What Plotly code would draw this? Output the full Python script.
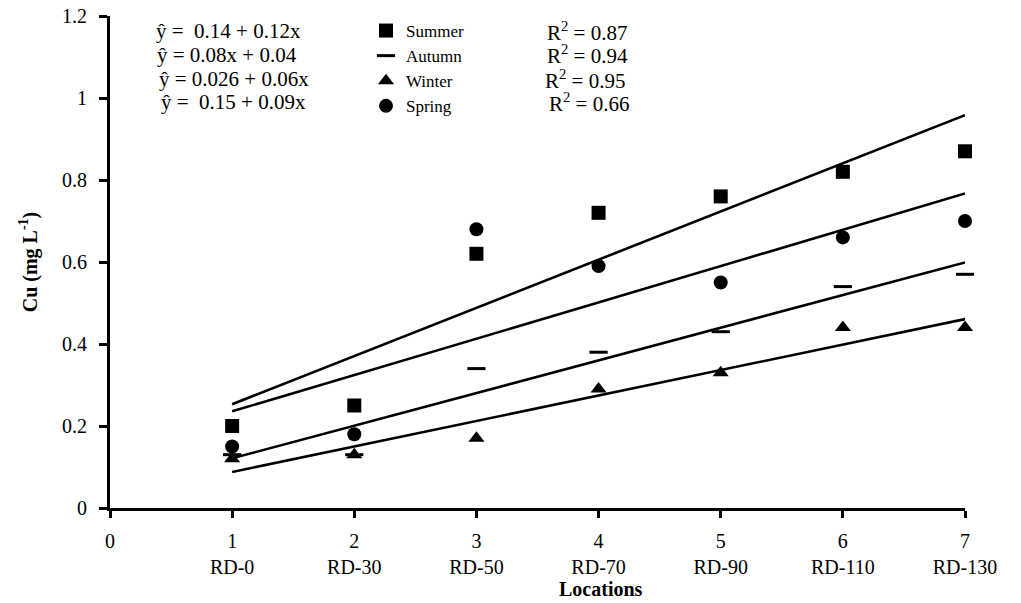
import numpy as np
import plotly.graph_objects as go

# ---- data ----
x_pos = [1, 2, 3, 4, 5, 6, 7]
locations = ["RD-0", "RD-30", "RD-50", "RD-70", "RD-90", "RD-110", "RD-130"]
summer = [0.20, 0.25, 0.62, 0.72, 0.76, 0.82, 0.87]
autumn = [0.13, 0.13, 0.34, 0.38, 0.43, 0.54, 0.57]
winter = [0.12, 0.13, 0.17, 0.29, 0.33, 0.44, 0.44]
spring = [0.15, 0.18, 0.68, 0.59, 0.55, 0.66, 0.70]
seasons = ["Summer", "Autumn", "Winter", "Spring"]
equations = ["ŷ =\u00a0 0.14 + 0.12x", "ŷ = 0.08x + 0.04", "ŷ = 0.026 + 0.06x", "ŷ =\u00a0 0.15 + 0.09x"]
r2_values = ["0.87", "0.94", "0.95", "0.66"]
y_ticks = [0, 0.2, 0.4, 0.6, 0.8, 1.0, 1.2]

series = [summer, autumn, winter, spring]
symbols = ["square", "line-ew", "triangle-up", "circle"]
sizes = [14, 13, 14, 14]

FONT = "Liberation Serif"
fig = go.Figure()

# trend lines (least-squares fits of each season)
for vals in series:
    slope, icpt = np.polyfit(x_pos, vals, 1)
    xs = [x_pos[0], x_pos[-1]]
    fig.add_trace(go.Scatter(
        x=xs, y=[icpt + slope * v for v in xs], mode="lines",
        line=dict(color="black", width=2.6), showlegend=False, hoverinfo="skip",
    ))

for name, vals, sym, sz in zip(seasons, series, symbols, sizes):
    fig.add_trace(go.Scatter(
        x=x_pos, y=vals, mode="markers", name=name, cliponaxis=False,
        marker=dict(symbol=sym, size=sz, color="black",
                    line=dict(color="black", width=3 if sym == "line-ew" else 0)),
    ))

# equation and R² annotations (pixel positions of row centres)
eq_x = [228, 227, 234, 233]
r2_x = [587, 587, 585, 589]
row_y = [31, 55, 79, 102]
L, R, T, B = 110, 56, 16, 95
W, H = 1021, 603
pw, ph = W - L - R, H - T - B

def px(x):
    return (x - L) / pw

def py(y):
    return (H - B - y) / ph

annotations = []
for eq, r2, ex, rx, ry in zip(equations, r2_values, eq_x, r2_x, row_y):
    annotations.append(dict(x=px(ex), y=py(ry), xref="paper", yref="paper", text=eq,
                            showarrow=False, xanchor="center", yanchor="middle",
                            font=dict(family=FONT, size=21, color="black")))
    annotations.append(dict(x=px(rx), y=py(ry), xref="paper", yref="paper",
                            text="R<sup>2</sup> = " + r2,
                            showarrow=False, xanchor="center", yanchor="middle",
                            font=dict(family=FONT, size=21, color="black")))
annotations.append(dict(x=px(601), y=py(589), xref="paper", yref="paper",
                        text="<b>Locations</b>", showarrow=False,
                        xanchor="center", yanchor="middle",
                        font=dict(family=FONT, size=20, color="black")))

fig.update_layout(
    width=W, height=H,
    margin=dict(l=L, r=R, t=T, b=B, autoexpand=False),
    paper_bgcolor="white", plot_bgcolor="white",
    font=dict(family=FONT, size=20, color="black"),
    showlegend=True,
    legend=dict(x=px(366), y=py(13), xanchor="left", yanchor="top",
                bgcolor="rgba(0,0,0,0)", font=dict(family=FONT, size=17, color="black"),
                tracegroupgap=0),
    annotations=annotations,
)
fig.update_xaxes(
    range=[0, 7], tickvals=[0] + x_pos,
    ticktext=["0"] + [f"{n}<br>{loc}" for n, loc in zip(x_pos, locations)],
    showline=True, linecolor="black", linewidth=3, ticks="outside", ticklen=7,
    tickwidth=3, tickcolor="black", showgrid=False, zeroline=False,
    automargin=False, ticklabelstandoff=6,
    tickfont=dict(family=FONT, size=20, color="black"),
)
fig.update_yaxes(
    range=[0, 1.2], tickvals=y_ticks,
    showline=True, linecolor="black", linewidth=3, ticks="outside", ticklen=8,
    tickwidth=3, tickcolor="black", showgrid=False, zeroline=False,
    automargin=False, ticklabelstandoff=8,
    tickfont=dict(family=FONT, size=20, color="black"),
    title=dict(text="<b>Cu (mg L<sup>-1</sup>)</b>", standoff=20,
               font=dict(family=FONT, size=20, color="black")),
)

fig.write_html("out.html", config={"displayModeBar": False},
               post_script="document.body.style.margin='0';")
